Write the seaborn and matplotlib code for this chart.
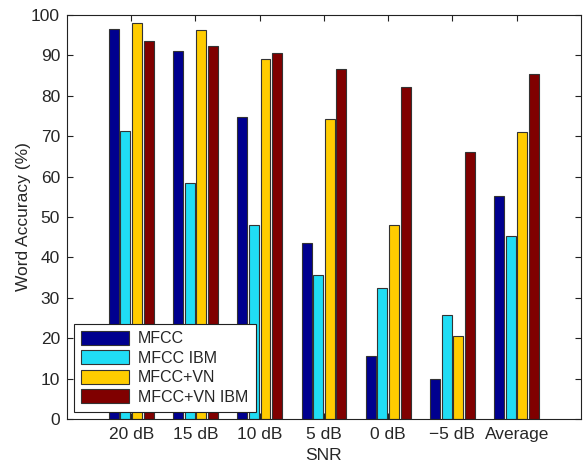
import matplotlib
matplotlib.use("Agg")
import matplotlib.pyplot as plt
import seaborn as sns
import pandas as pd

categories = ["20 dB", "15 dB", "10 dB", "5 dB", "0 dB", "\u22125 dB", "Average"]
series_names = ["MFCC", "MFCC IBM", "MFCC+VN", "MFCC+VN IBM"]
mfcc = [96.5, 91.2, 74.7, 43.5, 15.6, 9.8, 55.2]
mfcc_ibm = [71.2, 58.3, 48.0, 35.7, 32.4, 25.7, 45.2]
mfcc_vn = [97.9, 96.2, 89.0, 74.3, 48.1, 20.6, 71.0]
mfcc_vn_ibm = [93.6, 92.4, 90.7, 86.7, 82.3, 66.0, 85.3]
colors = ["#00008F", "#20DDF5", "#FFCC00", "#800000"]

rows = []
for name, vals in zip(series_names, [mfcc, mfcc_ibm, mfcc_vn, mfcc_vn_ibm]):
    for c, v in zip(categories, vals):
        rows.append({"SNR": c, "acc": v, "series": name})
df = pd.DataFrame(rows)

sns.set_style("white")
plt.rcParams["font.family"] = ["Liberation Sans", "DejaVu Sans"]

fig = plt.figure(figsize=(5.85, 4.66), dpi=100)
ax = fig.add_axes([0.1145, 0.1009, 0.8785, 0.8669])
sns.barplot(data=df, x="SNR", y="acc", hue="series", order=categories,
            hue_order=series_names, palette=colors, width=0.72, gap=0.14,
            saturation=1, edgecolor="#333333", linewidth=0.8, ax=ax)

ax.set_xlim(-1, 7)
ax.set_ylim(0, 100)
ax.set_yticks(range(0, 101, 10))
ax.set_xlabel("SNR", fontsize=12.5, labelpad=4)
ax.set_ylabel("Word Accuracy (%)", fontsize=12.5, labelpad=0)
ax.tick_params(direction="in", length=4, width=0.8, labelsize=12.5,
               top=True, right=True, bottom=True, left=True, color="#222222")
ax.tick_params(axis="x", pad=6)
ax.tick_params(axis="y", pad=5)
for s in ax.spines.values():
    s.set_visible(True)
    s.set_linewidth(0.8)
    s.set_color("#222222")

leg = ax.legend(loc="lower left", fontsize=11.5, frameon=True, fancybox=False,
                edgecolor="#222222", framealpha=1, handlelength=3.0,
                handleheight=0.95, borderpad=0.45, labelspacing=0.25,
                handletextpad=0.55, borderaxespad=0.45, title=None)
leg.get_frame().set_linewidth(0.8)

fig.savefig("out.png", dpi=100)
